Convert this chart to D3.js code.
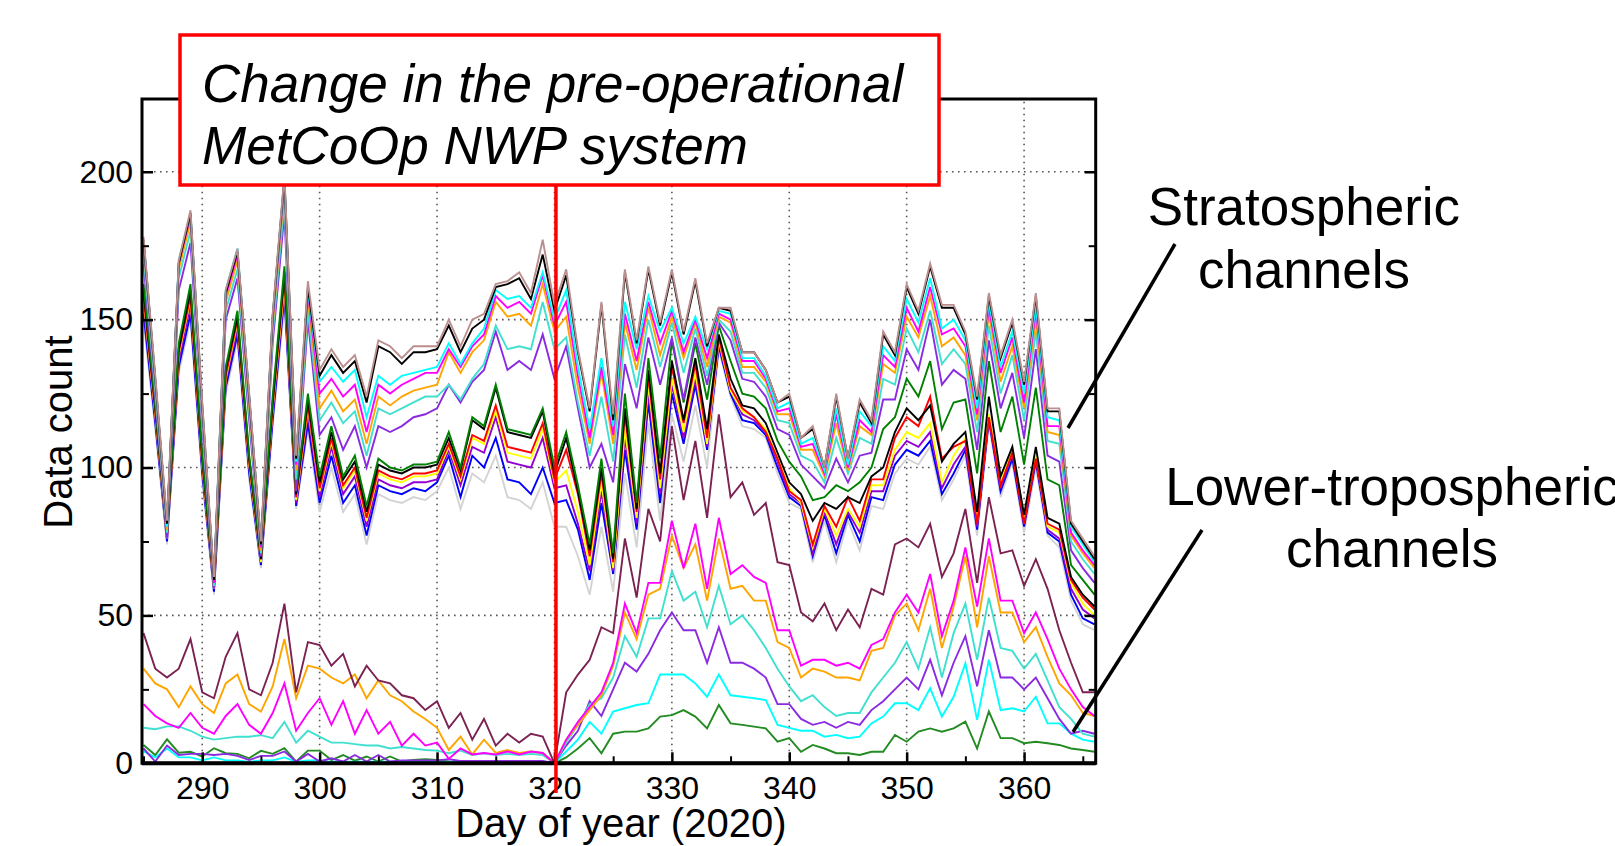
<!DOCTYPE html>
<html>
<head>
<meta charset="utf-8">
<script src="https://cdn.jsdelivr.net/npm/d3@7"></script>
<style>
  body { margin: 0; background: #fff; }
  text { font-family: "Liberation Sans", Arial, sans-serif; fill: #000; }
</style>
</head>
<body>
<svg width="1615" height="846"></svg>
<script>
// day of year 2020
const days = [285,286,287,288,289,290,291,292,293,294,295,296,297,298,299,300,301,302,303,304,305,306,307,308,309,310,
  311,312,313,314,315,316,317,318,319,320,321,322,323,324,325,326,327,328,329,330,331,332,333,334,335,336,337,338,339,340,
  341,342,343,344,345,346,347,348,349,350,351,352,353,354,355,356,357,358,359,360,361,362,363,364,365,366];

// stratospheric channels, upper bundle
const stratRosy = [178,131,82,170,187,122,63,160,174,125,75,152,199,104,163,
  133,140,134,138,124,143,141,137,141,141,141,150,141,150,152,162,163,166,159,177,
  155,167,140,120,156,118,167,143,168,149,167,146,164,142,154,154,139,139,133,122,125,110,114,100,125,103,123,116,146,139,162,153,169,155,155,146,124,159,138,150,129,159,120,120,82,76,70];
const stratBlack = [177,130,81,169,186,121,62,159,173,124,74,151,198,103,161,
  131,138,132,136,122,141,139,135,139,139,140,148,139,147,150,161,162,164,157,172,
  153,165,139,119,155,116,166,142,167,148,166,145,163,141,154,153,139,139,133,122,124,110,113,100,124,103,122,115,145,138,161,152,168,154,154,145,123,158,137,149,128,158,119,119,81,75,69];
const stratCyan = [177,129,80,170,186,120,62,160,174,124,74,151,197,102,160,
  129,134,129,133,117,131,128,131,132,133,134,142,135,142,147,160,157,158,154,166,
  150,160,134,113,137,114,156,140,158,146,154,142,151,140,153,152,137,137,131,120,122,108,110,99,120,101,119,114,141,136,157,149,164,147,150,143,120,156,134,146,125,155,117,116,80,74,68];
const stratMagenta = [176,129,80,169,185,119,61,158,172,123,73,150,196,101,159,
  125,130,124,128,112,128,125,128,130,132,132,140,134,141,145,158,154,156,152,165,
  148,156,131,110,134,111,152,136,156,142,153,139,150,137,152,150,136,136,130,119,120,107,108,98,118,100,116,112,138,134,154,146,161,145,147,141,118,154,132,144,122,153,114,114,78,72,67];
const stratOrange = [175,128,79,167,183,118,61,156,170,121,72,148,194,99,157,
  120,126,119,123,108,124,121,124,126,127,128,139,132,139,143,156,151,152,148,162,
  146,151,127,108,132,108,149,133,154,138,151,137,149,134,151,149,134,134,129,118,118,106,106,97,115,99,114,111,135,132,151,144,158,141,144,138,116,152,129,141,120,150,112,111,77,71,66];
const stratTurq = [172,126,78,164,180,116,60,153,167,119,71,145,190,96,153,
  116,122,115,119,104,120,118,120,122,124,124,128,123,130,135,148,140,141,140,156,
  140,144,122,104,124,102,145,127,150,134,149,132,147,131,150,146,132,132,127,116,115,104,102,95,110,98,110,108,130,128,147,139,153,135,140,135,112,148,125,138,116,146,109,108,75,69,64];
const stratViolet = [169,124,76,160,176,114,59,150,164,116,70,142,186,92,150,
  111,117,106,114,100,114,112,114,117,118,120,128,122,129,133,146,133,136,133,145,
  130,141,120,100,108,95,135,120,144,128,144,123,144,128,149,143,130,129,124,113,111,101,97,93,103,95,104,105,123,123,140,133,150,128,133,130,106,143,120,132,110,140,104,102,72,66,61];

// stratospheric channels, lower bundle
const stratGreen = [162,121,78,142,162,104,61,134,153,104,70,124,168,92,125,
  97,114,97,104,87,103,100,99,101,101,102,112,100,117,114,128,113,112,111,120,
  100,112,94,74,103,71,125,88,137,103,143,122,142,123,148,136,125,124,120,109,102,97,89,90,94,92,95,100,113,117,130,124,136,113,122,123,98,136,112,124,101,127,96,94,67,62,57];
const stratBlack2 = [160,120,77,140,160,103,60,133,151,103,69,122,166,91,123,
  95,112,96,102,85,101,99,98,100,100,101,110,99,116,113,127,112,111,110,119,
  98,110,92,72,100,69,120,86,133,98,136,116,137,113,145,130,121,120,115,105,95,91,82,88,86,90,88,97,100,112,120,116,121,102,108,112,85,124,97,107,84,107,83,81,63,57,53];
const stratRed = [158,119,77,139,158,102,60,131,150,102,69,121,164,90,121,
  93,110,94,100,83,99,97,96,98,98,99,108,97,111,109,121,107,106,105,115,
  96,106,91,70,98,68,118,85,131,96,134,115,135,110,144,127,120,117,112,103,92,89,74,87,80,90,82,96,96,110,117,114,124,103,107,109,81,117,94,105,81,103,81,79,62,56,52];
const stratYellow = [157,118,76,138,157,101,59,130,149,101,68,120,162,89,120,
  92,109,93,99,82,98,96,95,97,97,98,107,96,110,108,119,105,104,103,113,
  95,99,85,67,95,66,113,83,128,93,130,112,132,108,143,126,119,117,113,103,93,88,73,86,77,86,80,94,94,106,112,110,115,95,104,110,82,118,95,106,83,104,80,78,61,54,50];
const stratPurple = [155,117,76,136,155,100,59,129,147,100,68,118,160,88,118,
  90,107,91,97,80,96,94,93,95,95,96,106,94,107,105,117,102,101,100,110,
  93,94,81,65,92,65,110,81,125,91,128,110,130,107,142,126,118,116,112,102,91,88,71,85,74,85,78,92,92,104,109,107,112,93,101,107,80,117,93,105,81,103,79,76,59,52,49];
const stratBlue = [152,115,75,134,152,98,58,127,145,98,67,116,158,87,115,
  88,104,88,94,77,94,92,91,93,92,95,104,90,104,100,110,96,95,91,100,
  88,89,79,62,88,64,106,79,122,88,125,108,128,106,141,125,116,115,111,100,90,87,70,84,71,84,75,90,89,101,106,104,109,91,98,106,79,116,92,103,80,102,78,75,57,49,47];
const stratGray = [150,113,74,132,150,96,57,125,143,96,66,114,155,86,113,
  85,100,85,91,74,91,89,88,90,89,92,100,86,98,95,104,90,89,86,95,
  80,80,70,57,80,58,98,73,115,82,118,102,121,100,140,124,114,113,110,98,88,86,68,82,68,82,72,87,86,98,103,101,107,89,96,104,77,115,90,102,78,100,77,73,55,47,45];

// lower-tropospheric channels
const lowMaroon = [44,32,29,32,42,24,22,36,44,25,23,34,54,24,41,40,33,37,26,33,28,27,23,22,18,21,12,17,8,15,6,10,7,10,9,0,
  24,30,35,46,44,76,56,86,75,114,89,109,83,118,90,95,84,88,68,67,51,48,54,45,52,46,59,57,74,76,73,81,63,71,86,61,90,71,72,60,69,59,45,34,24,24];
const lowMagenta = [20,16,13.5,12,17,12,10,16,20,13,10,17,27,11,17,22,13,21,10,18,10,14,6,10,6,7,1.5,5,3,3.5,3,4,3,4,3.5,0,
  8,14,19,24,34,54,44,61,61,82,66,81,59,83,64,67,63,61,45,45,33,35,35,33,34,32,40,42,51,57,51,64,43,55,73,53,76,55,55,44,51,42,32,25,19,16];
const lowOrange = [32,27,25,19,26,20,17,27,30,20,17.5,26,42,22,33,32,29,27,30,22,28,23,21,17.5,15,12,4.5,9,3,8,3.5,4.5,3.5,4,3.5,0,
  8,13,18,23,33,51,42,57,59,77,66,74,55,76,59,60,55,55,41,39,29,32,31,29,29,28,38,39,50,54,45,59,39,53,70,46,70,51,51,41,46,36,27,23,17,16];
const lowTurq = [12,11.5,12.5,12.5,11,9,8,8.5,9,9,9.5,8.5,14,7,11,9,7,7,6.5,6,6,5,5.5,5,4.5,4.3,3.4,4.3,2.8,3.4,2.8,3.2,2.8,3.2,2.8,0,
  7,13,20,22,29,43,36,49,49,65,55,58,46,60,47,50,45,39,32,26,21,23,19,16,17,17,24,29,34,41,32,46,29,44,54,35,56,39,38,32,37,28,19,15,10,9];
const lowViolet = [5,0.6,6,2.8,3.2,3.2,2.8,3.2,2.5,1.1,2.5,2.5,4,0.6,3.2,0.6,1.7,0.6,2.8,0.6,2.8,0.6,1,1,1,1,1.4,0.8,0.8,0.8,0.8,0.8,0.8,0.8,0.8,0,
  6,11,21,16,25,34,31,37,45,51,45,45,34,46,34,34,32,29,20,20,15,13,14,12,14,13,18,21,25,29,25,35,23,34,43,26,45,29,29,25,29,22,15,10,11,10];
const lowCyan = [4,2,5,2,2,1,2,1,1,0.5,1,1,2,0.5,1,1,0.5,0.5,0.5,0.5,0.5,0.5,0.5,0.5,0.5,0.5,0.5,0.5,0.5,0.5,0.5,0.5,0.5,0.5,0.5,0,
  4,8,14,10,17.5,18.6,19.7,20.3,30,30,30,27,22.5,30,23,22.5,22,21.4,13,12,11,11,9,9.6,8.5,9,13.5,15.8,20.3,20.3,18,25.4,15.8,22.5,33.8,14.7,35,18,18.6,17.5,22.5,13.5,13.5,10,8,7.3];
const lowGreen = [6.2,2.8,8.1,3.6,3.9,2.3,5.1,3.4,3.2,1.7,4.2,3.2,5.1,0.6,4.3,4.3,1.1,2.8,0.9,2.3,0.6,2.3,0.6,1.1,1.4,1.1,0.6,0.5,0.5,0.5,0.5,0.5,0.5,0.5,0.5,0,
  2,5,8.5,3.4,10,10.7,10.7,11.8,15.8,16.3,18,15.8,11.8,19.7,13.5,13,12.4,11.8,7.3,8.5,3.9,6.2,5,3.4,3.4,2.8,3.9,3.9,9.6,7.3,10.7,11.8,10.7,11.8,14.1,5,17.5,8.5,8.5,6.8,7.3,6.8,6.2,5,4.5,3.9];

const xMajor = [290,300,310,320,330,340,350,360];
const xMinor = [285,295,305,315,325,335,345,355,365];
const yMajor = [0,50,100,150,200];
const yMinor = [25,75,125,175];

const series = [
  {v: stratGray, c: "#d3d3d3"}, {v: stratBlue, c: "#0000ff"}, {v: stratPurple, c: "#9400d3"},
  {v: stratYellow, c: "#ffff00"}, {v: stratRed, c: "#ff0000"}, {v: stratBlack2, c: "#000000"},
  {v: stratGreen, c: "#008000"},
  {v: stratViolet, c: "#8a2be2"}, {v: stratTurq, c: "#40e0d0"}, {v: stratOrange, c: "#ffa500"},
  {v: stratMagenta, c: "#ff00ff"}, {v: stratCyan, c: "#00ffff"}, {v: stratBlack, c: "#000000"},
  {v: stratRosy, c: "#bc8f8f"},
  {v: lowGreen, c: "#228b22"}, {v: lowCyan, c: "#00ffff"}, {v: lowViolet, c: "#8a2be2"},
  {v: lowTurq, c: "#40e0d0"}, {v: lowOrange, c: "#ffa500"}, {v: lowMagenta, c: "#ff00ff"},
  {v: lowMaroon, c: "#7b2252"}
];

const pL = 142, pR = 1095.7, pT = 99, pB = 763.3;
const x = d3.scaleLinear().domain([284.87, 366.1]).range([pL, pR]);
const y = d3.scaleLinear().domain([0, 224.6]).range([pB, pT]);

const svg = d3.select("svg");

svg.append("clipPath").attr("id", "plot")
  .append("rect").attr("x", pL).attr("y", pT).attr("width", pR - pL).attr("height", pB - pT);

// dotted grid
const grid = svg.append("g").attr("stroke", "#555").attr("stroke-width", 1.6).attr("stroke-dasharray", "1.6,4.4");
grid.selectAll(".gx").data(xMajor).enter().append("line")
  .attr("x1", d => x(d)).attr("x2", d => x(d)).attr("y1", pB).attr("y2", pT);
grid.selectAll(".gy").data(yMajor.filter(d => d > 0)).enter().append("line")
  .attr("x1", pL).attr("x2", pR).attr("y1", d => y(d)).attr("y2", d => y(d));

// lines
const line = d3.line().x((d, i) => x(days[i])).y(d => y(d));
svg.append("g").attr("clip-path", "url(#plot)")
  .selectAll("path").data(series).enter().append("path")
  .attr("d", d => line(d.v))
  .attr("fill", "none")
  .attr("stroke", d => d.c)
  .attr("stroke-width", 1.9)
  .attr("stroke-linejoin", "miter");

// axes
const xAxis = d3.axisBottom(x).tickValues(xMajor).tickSize(-11).tickPadding(13);
svg.append("g").attr("transform", `translate(0,${pB})`).call(xAxis)
  .call(g => g.select(".domain").remove())
  .call(g => g.selectAll("line").attr("stroke", "#000").attr("stroke-width", 2.5))
  .call(g => g.selectAll("text").attr("font-size", 32).attr("font-family", "'Liberation Sans', Arial, sans-serif"));
svg.append("g").attr("transform", `translate(0,${pB})`)
  .call(d3.axisBottom(x).tickValues(xMinor).tickSize(-7).tickFormat(""))
  .call(g => g.select(".domain").remove())
  .call(g => g.selectAll("line").attr("stroke", "#000").attr("stroke-width", 2));

const yAxis = d3.axisLeft(y).tickValues(yMajor).tickSize(-11).tickPadding(9);
svg.append("g").attr("transform", `translate(${pL},0)`).call(yAxis)
  .call(g => g.select(".domain").remove())
  .call(g => g.selectAll("line").attr("stroke", "#000").attr("stroke-width", 2.5))
  .call(g => g.selectAll("text").attr("font-size", 32).attr("font-family", "'Liberation Sans', Arial, sans-serif"));
svg.append("g").attr("transform", `translate(${pL},0)`)
  .call(d3.axisLeft(y).tickValues(yMinor).tickSize(-7).tickFormat(""))
  .call(g => g.select(".domain").remove())
  .call(g => g.selectAll("line").attr("stroke", "#000").attr("stroke-width", 2));
svg.append("g").attr("transform", `translate(${pR},0)`)
  .call(d3.axisRight(y).tickValues(yMajor).tickSize(-11).tickFormat(""))
  .call(g => g.select(".domain").remove())
  .call(g => g.selectAll("line").attr("stroke", "#000").attr("stroke-width", 2.5));
svg.append("g").attr("transform", `translate(${pR},0)`)
  .call(d3.axisRight(y).tickValues(yMinor).tickSize(-7).tickFormat(""))
  .call(g => g.select(".domain").remove())
  .call(g => g.selectAll("line").attr("stroke", "#000").attr("stroke-width", 2));

// frame
svg.append("rect").attr("x", pL).attr("y", pT).attr("width", pR - pL).attr("height", pB - pT)
  .attr("fill", "none").attr("stroke", "#000").attr("stroke-width", 3);
svg.append("line").attr("x1", pL).attr("x2", pR).attr("y1", pB).attr("y2", pB)
  .attr("stroke", "#000").attr("stroke-width", 4);

// axis titles
svg.append("text").attr("x", (pL + pR) / 2 + 2).attr("y", 837).attr("text-anchor", "middle")
  .attr("font-size", 40).text("Day of year (2020)");
svg.append("text").attr("transform", `translate(72,432) rotate(-90)`).attr("text-anchor", "middle")
  .attr("font-size", 40).text("Data count");

// change marker
svg.append("line").attr("x1", x(320) + 1.5).attr("x2", x(320) + 1.5).attr("y1", 185).attr("y2", 793)
  .attr("stroke", "#ff0000").attr("stroke-width", 3.5);
svg.append("rect").attr("x", 180).attr("y", 35).attr("width", 759).attr("height", 150)
  .attr("fill", "#fff").attr("stroke", "#ff0000").attr("stroke-width", 3.5);
svg.append("text").attr("x", 202).attr("y", 102).attr("font-size", 53).attr("font-style", "italic")
  .text("Change in the pre-operational");
svg.append("text").attr("x", 202).attr("y", 164).attr("font-size", 53).attr("font-style", "italic")
  .text("MetCoOp NWP system");

// channel labels
const labels = svg.append("g").attr("font-size", 53).attr("text-anchor", "middle");
labels.append("text").attr("x", 1304).attr("y", 225).text("Stratospheric");
labels.append("text").attr("x", 1304).attr("y", 288).text("channels");
labels.append("text").attr("x", 1392).attr("y", 505).text("Lower-tropospheric");
labels.append("text").attr("x", 1392).attr("y", 567).text("channels");
svg.append("line").attr("x1", 1175).attr("y1", 244).attr("x2", 1068).attr("y2", 428)
  .attr("stroke", "#000").attr("stroke-width", 3.5);
svg.append("line").attr("x1", 1202).attr("y1", 530).attr("x2", 1073).attr("y2", 732)
  .attr("stroke", "#000").attr("stroke-width", 3.5);
</script>
</body>
</html>
